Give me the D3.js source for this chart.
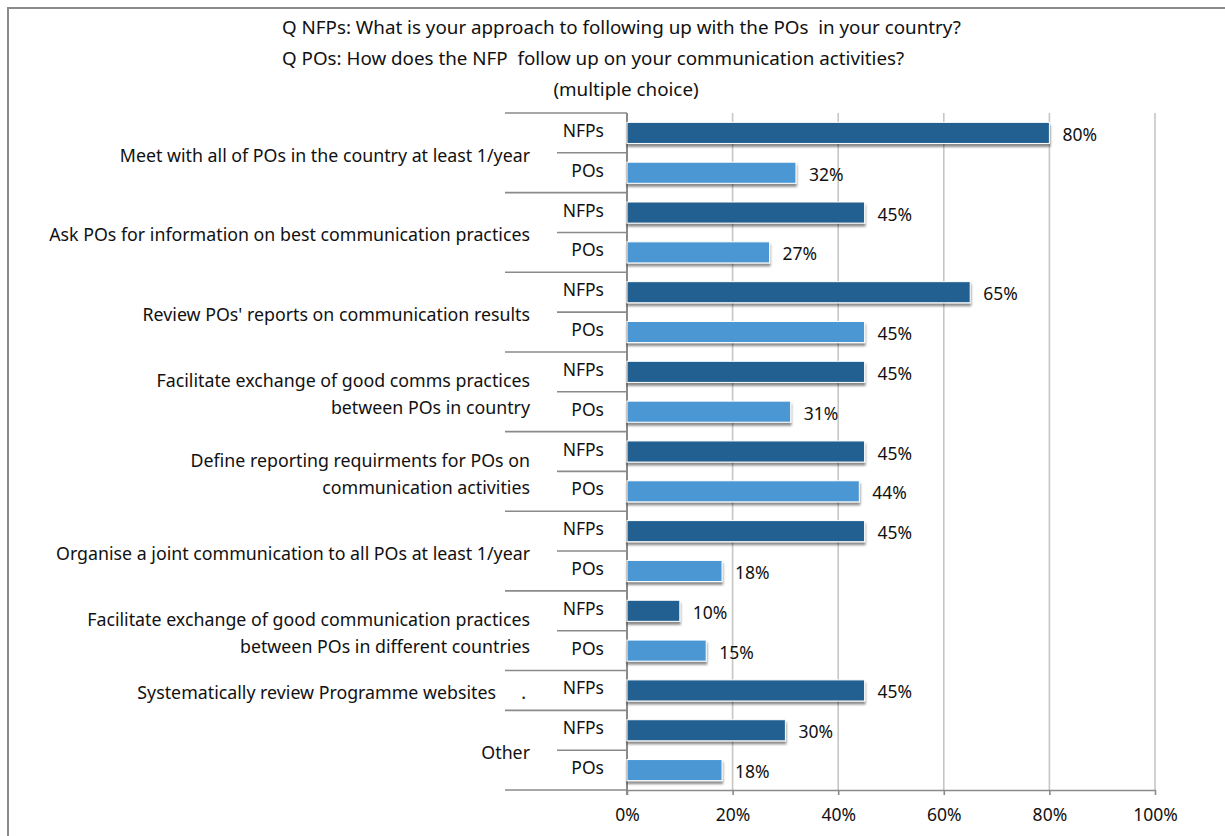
<!DOCTYPE html>
<html>
<head>
<meta charset="utf-8">
<script src="https://cdn.jsdelivr.net/npm/d3@7"></script>
<style>
  html, body { margin: 0; padding: 0; background: #fff; }
  svg { display: block; }
  text { font-family: "Noto Sans", "Open Sans", sans-serif; fill: #111; }
</style>
</head>
<body>
<svg id="chart" width="1225" height="836"></svg>
<script>
// Survey answers, share of respondents (%)
const titleLines = [
  "Q NFPs: What is your approach to following up with the POs  in your country?",
  "Q POs: How does the NFP  follow up on your communication activities?",
  "(multiple choice)"
];
const categories = [
  ["Meet with all of POs in the country at least 1/year"],
  ["Ask POs for information on best communication practices"],
  ["Review POs' reports on communication results"],
  ["Facilitate exchange of good comms practices", "between POs in country"],
  ["Define reporting requirments for POs on", "communication activities"],
  ["Organise a joint communication to all POs at least 1/year"],
  ["Facilitate exchange of good communication practices", "between POs in different countries"],
  ["Systematically review Programme websites"],
  ["Other"]
];
const seriesNames = ["NFPs", "POs"];
const nfpValues = [80, 45, 65, 45, 45, 45, 10, 45, 30];
const poValues  = [32, 27, 45, 31, 44, 18, 15, null, 18];
const xTicks = [0, 20, 40, 60, 80, 100];

// One row per answered (category, respondent group) pair
const rows = [];
categories.forEach((c, ci) => {
  [nfpValues[ci], poValues[ci]].forEach((v, si) => {
    if (v !== null) rows.push({ id: rows.length, cat: ci, series: si, value: v });
  });
});

const svg = d3.select("#chart");
const colors = ["#246192", "#4c97d4"];
const fs = 17.5;

// frame
svg.append("path")
  .attr("d", "M8,836 V8 H1225")
  .attr("fill", "none").attr("stroke", "#8a8a8a").attr("stroke-width", 2);

// title
svg.append("g").selectAll("text").data(titleLines).join("text")
  .attr("x", (d, i) => i < 2 ? 282 : 626)
  .attr("text-anchor", (d, i) => i < 2 ? "start" : "middle")
  .attr("y", (d, i) => 27 + i * 31)
  .attr("dominant-baseline", "central")
  .attr("font-size", 18.8)
  .style("white-space", "pre")
  .text(d => d);

const plot = { left: 627, right: 1155, top: 113, bottom: 790 };
const x = d3.scaleLinear().domain([0, 100]).range([plot.left, plot.right]);
const y = d3.scaleBand().domain(rows.map(r => r.id)).range([plot.top, plot.bottom]).paddingInner(0.47).paddingOuter(0.235);
const step = y.step();

// vertical gridlines
svg.append("g").selectAll("line").data(xTicks.slice(1)).join("line")
  .attr("x1", d => x(d)).attr("x2", d => x(d))
  .attr("y1", plot.top).attr("y2", plot.bottom)
  .attr("stroke", "#c6c6c6").attr("stroke-width", 1.6);

// x axis
const xAxis = d3.axisBottom(x).tickValues(xTicks).tickFormat(d => d + "%").tickSizeInner(5).tickSizeOuter(0).tickPadding(14);
const gx = svg.append("g").attr("transform", `translate(0,${plot.bottom})`).call(xAxis);
gx.select(".domain").attr("stroke", "#8a8a8a").attr("stroke-width", 1.6);
gx.selectAll(".tick line").attr("stroke", "#8a8a8a").attr("stroke-width", 1.6);
gx.selectAll(".tick text").attr("font-size", fs).attr("font-family", '"Noto Sans", sans-serif').attr("fill", "#111");

// category separators of the two-level axis
const rowTop = id => plot.top + id * step;
const seps = [];
rows.forEach((r, i) => {
  const first = i === 0 || rows[i - 1].cat !== r.cat;
  seps.push({ y: rowTop(r.id), outer: first });
});
seps.push({ y: plot.bottom, outer: true });
svg.append("g").selectAll("line").data(seps).join("line")
  .attr("x1", d => d.outer ? 505 : 557).attr("x2", plot.left)
  .attr("y1", d => d.y).attr("y2", d => d.y)
  .attr("stroke", "#8a8a8a").attr("stroke-width", 1.6);

// y axis line
svg.append("line")
  .attr("x1", plot.left).attr("x2", plot.left)
  .attr("y1", plot.top).attr("y2", plot.bottom + 5)
  .attr("stroke", "#8a8a8a").attr("stroke-width", 2);

// bar shadow
const defs = svg.append("defs");
const f = defs.append("filter").attr("id", "shadow").attr("x", "-5%").attr("y", "-20%").attr("width", "110%").attr("height", "160%");
f.append("feDropShadow").attr("dx", 0.5).attr("dy", 3).attr("stdDeviation", 1.3)
  .attr("flood-color", "#000").attr("flood-opacity", 0.45);

// bars
svg.append("g").selectAll("rect").data(rows).join("rect")
  .attr("x", x(0))
  .attr("y", d => y(d.id))
  .attr("width", d => x(d.value) - x(0))
  .attr("height", y.bandwidth())
  .attr("fill", d => colors[d.series])
  .attr("stroke", "#ffffff").attr("stroke-width", 1)
  .attr("filter", "url(#shadow)");

// value labels
svg.append("g").selectAll("text").data(rows).join("text")
  .attr("x", d => x(d.value) + 13)
  .attr("y", d => y(d.id) + y.bandwidth() / 2 + 1)
  .attr("dominant-baseline", "central")
  .attr("font-size", fs)
  .text(d => d.value + "%");

// inner level labels (respondent group)
svg.append("g").selectAll("text").data(rows).join("text")
  .attr("x", 604)
  .attr("text-anchor", "end")
  .attr("y", d => y(d.id) + y.bandwidth() / 2 - 3)
  .attr("dominant-baseline", "central")
  .attr("font-size", fs)
  .text(d => seriesNames[d.series]);

// outer level labels (answer options)
const catLabels = categories.map((lines, ci) => {
  const rs = rows.filter(r => r.cat === ci);
  const top = rowTop(rs[0].id), bottom = rowTop(rs[rs.length - 1].id) + step;
  return { lines, mid: (top + bottom) / 2, single: rs.length === 1 };
});
const lineGap = 27;
const cl = svg.append("g").selectAll("text").data(catLabels).join("text")
  .attr("text-anchor", "end")
  .attr("dominant-baseline", "central")
  .attr("font-size", 17.8);
cl.each(function(d) {
  const t = d3.select(this);
  d.lines.forEach((line, i) => {
    t.append("tspan")
      .attr("x", 530)
      .attr("y", d.mid + (i - (d.lines.length - 1) / 2) * lineGap + 2)
      .text(line);
  });
  if (d.single) {
    // the single-row option carries a trailing dot
    t.select("tspan").attr("x", 496);
    t.append("tspan").attr("x", 526).text(".");
  }
});
</script>
</body>
</html>
